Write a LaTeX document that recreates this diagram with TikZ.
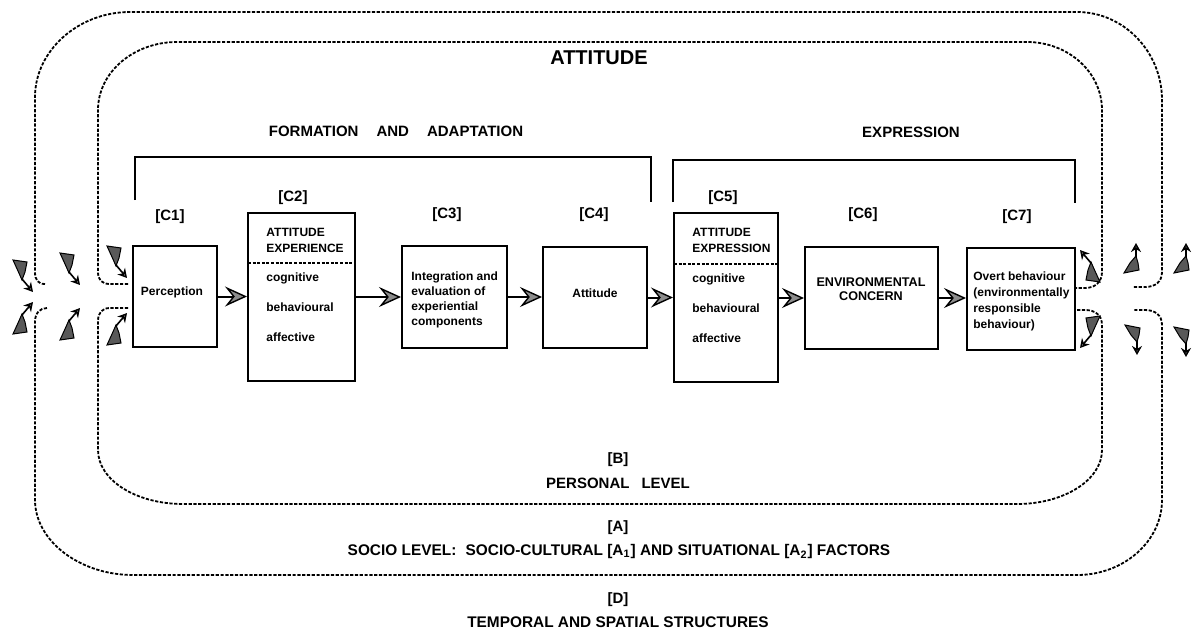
\documentclass[tikz,border=0pt]{standalone}
\usepackage{fontspec}
\setmainfont{Liberation Sans}
\usetikzlibrary{arrows.meta}
\tikzset{
  box/.style={draw, line width=1pt, inner sep=0pt},
  loop/.style={line width=0.9pt, dash pattern=on 1.6pt off 0.8pt},
  bracket/.style={line width=0.8pt},
  flow/.style={line width=1pt, -{Stealth[length=11pt,width=10pt,inset=4pt,fill=black!45,line width=0.7pt]}},
  ttl/.style={font=\fontsize{10}{12}\selectfont\bfseries, inner sep=0pt},
  head/.style={font=\fontsize{7.5}{9}\selectfont\bfseries, inner sep=0pt},
  lab/.style={font=\fontsize{7.5}{9}\selectfont\bfseries, inner sep=0pt},
  low/.style={font=\fontsize{7.7}{9}\selectfont\bfseries, inner sep=0pt},
  txt/.style={font=\fontsize{6}{7.5}\selectfont\bfseries, inner sep=0pt, align=left},
  zap/.pic={
    \filldraw[fill=black!65, draw=black, line width=0.5pt]
      (-20,-32) -- (-6,-30) -- (-8,-20) -- (-11,-12) -- (-15,-21) -- cycle;
    \draw[line width=0.8pt, -{Stealth[length=4.5pt,width=5pt,open]}] (-11,-13) -- (0,0);
  },
  zapv/.pic={
    \filldraw[fill=black!65, draw=black, line width=0.5pt]
      (-12,-30) -- (3,-27) -- (2,-20) -- (0,-13) -- (-6,-20) -- cycle;
    \draw[line width=0.8pt, -{Stealth[length=4.5pt,width=5pt,open]}] (0,-14) -- (0,0);
  }
}
\begin{document}
\begin{tikzpicture}[x=0.5pt,y=-0.5pt]
\useasboundingbox (0,0) rectangle (1196,632);

% outer loop [A]
\draw[loop] (45,284) .. controls (38,284) and (35,280) .. (35,272) -- (35,97)
  .. controls (35,51) and (78,12) .. (130,12) -- (1077,12)
  .. controls (1124,12) and (1162,52) .. (1162,100) -- (1162,272)
  .. controls (1162,282) and (1155,287) .. (1145,287) -- (1133,287);
\draw[loop] (47,308) .. controls (40,308) and (35,313) .. (35,322) -- (35,500)
  .. controls (35,541) and (80,575) .. (133,575) -- (1077,575)
  .. controls (1124,575) and (1162,541) .. (1162,500) -- (1162,325)
  .. controls (1162,315) and (1155,310) .. (1145,310) -- (1133,310);

% inner loop [B]
\draw[loop] (128,284) -- (110,284) .. controls (102,284) and (98,280) .. (98,272) -- (98,110)
  .. controls (98,72) and (134,42) .. (177,42) -- (1027,42)
  .. controls (1068,42) and (1102,72) .. (1102,110) -- (1102,272)
  .. controls (1102,282) and (1095,288) .. (1085,288) -- (1075,288);
\draw[loop] (128,308) -- (110,308) .. controls (102,308) and (98,313) .. (98,321) -- (98,450)
  .. controls (98,480) and (136,504) .. (183,504) -- (1017,504)
  .. controls (1064,504) and (1102,480) .. (1102,450) -- (1102,325)
  .. controls (1102,315) and (1095,310) .. (1085,310) -- (1075,310);

% titles
\node[ttl] (att) at (599,58) {ATTITUDE};
\node[head] (fa) at (396,131) {FORMATION\hspace{1.2em}AND\hspace{1.2em}ADAPTATION};
\node[head] (ex) at (911,132) {EXPRESSION};

% brackets
\draw[bracket] (135,200) -- (135,157) -- (651,157) -- (651,202);
\draw[bracket] (673,202) -- (673,160) -- (1075,160) -- (1075,203);

% boxes
\node[box, minimum width=42pt, minimum height=50.5pt] (c1) at (175,296.5) {};
\node[box, minimum width=53.5pt, minimum height=84pt] (c2) at (301.5,297) {};
\node[box, minimum width=52.5pt, minimum height=51pt] (c3) at (454.5,297) {};
\node[box, minimum width=52pt, minimum height=50.5pt] (c4) at (595,297.5) {};
\node[box, minimum width=52pt, minimum height=84.5pt] (c5) at (726,297.5) {};
\node[box, minimum width=66.5pt, minimum height=51pt] (c6) at (871.5,298) {};
\node[box, minimum width=54pt, minimum height=51pt] (c7) at (1021,299) {};

% dashed dividers
\draw[line width=0.7pt, dash pattern=on 1.5pt off 0.8pt] (248,263) -- (355,263);
\draw[line width=0.7pt, dash pattern=on 1.5pt off 0.8pt] (674,264) -- (778,264);

% labels
\node[lab] (l1) at (170,217) {[C1]};
\node[lab] (l2) at (293,198) {[C2]};
\node[lab] (l3) at (447,215) {[C3]};
\node[lab] (l4) at (594,215) {[C4]};
\node[lab] (l5) at (723,198) {[C5]};
\node[lab] (l6) at (863,215) {[C6]};
\node[lab] (l7) at (1017,217) {[C7]};

% box texts
\node[txt] (t1) at (172,292) {Perception};
\node[txt, anchor=west, font=\fontsize{6}{8}\selectfont\bfseries] (t2h) at (266,240) {ATTITUDE\\EXPERIENCE};
\node[txt, anchor=west, font=\fontsize{6}{15}\selectfont\bfseries] (t2l) at (266,307) {cognitive\\behavioural\\affective};
\node[txt, anchor=west, font=\fontsize{6}{7.6}\selectfont\bfseries] (t3) at (411,300) {Integration and\\evaluation of\\experiential\\components};
\node[txt] (t4) at (595,293) {Attitude};
\node[txt, anchor=west, font=\fontsize{6}{8}\selectfont\bfseries] (t5h) at (692,240.5) {ATTITUDE\\EXPRESSION};
\node[txt, anchor=west, font=\fontsize{6}{15}\selectfont\bfseries] (t5l) at (692,308) {cognitive\\behavioural\\affective};
\node[txt, align=center, font=\fontsize{6.3}{6.8}\selectfont\bfseries] (t6) at (871,289) {ENVIRONMENTAL\\CONCERN};
\node[txt, anchor=west, font=\fontsize{6}{8}\selectfont\bfseries] (t7) at (973,301) {Overt behaviour\\(environmentally\\responsible\\behaviour)};

% flow arrows
\draw[flow] (c1.east) -- (c1.east -| c2.west);
\draw[flow] (c2.east |- c3.west) -- (c3.west);
\draw[flow] (c3.east) -- (c3.east -| c4.west);
\draw[flow] (c4.east) -- (c4.east -| c5.west);
\draw[flow] (c5.east |- c6.west) -- (c6.west);
\draw[flow] (c6.east) -- (c6.east -| c7.west);

% feedback squiggles, left
\pic at (33,292) {zap};
\pic at (80,285) {zap};
\pic at (127,278) {zap};
\pic[yscale=-1] at (33,302) {zap};
\pic[yscale=-1] at (80,308) {zap};
\pic[yscale=-1] at (127,313) {zap};
% right
\pic[rotate=180] at (1080,250) {zap};
\pic[xscale=-1] at (1080,348) {zap};
\pic[yscale=-1] at (1136,243) {zapv};
\pic[yscale=-1] at (1186,243) {zapv};
\pic at (1137,355) {zapv};
\pic at (1186,357) {zapv};

% bottom labels
\node[lab] (b1) at (618,460) {[B]};
\node[lab] (b2) at (618,483) {PERSONAL\hspace{0.8em}LEVEL};
\node[lab] (a1) at (618,528) {[A]};
\node[low] (a2) at (619,552) {SOCIO LEVEL:\hspace{0.6em}SOCIO-CULTURAL [A\textsubscript{1}] AND SITUATIONAL [A\textsubscript{2}] FACTORS};
\node[lab] (d1) at (618,600) {[D]};
\node[low] (d2) at (618,622) {TEMPORAL AND SPATIAL STRUCTURES};
\end{tikzpicture}
\end{document}
